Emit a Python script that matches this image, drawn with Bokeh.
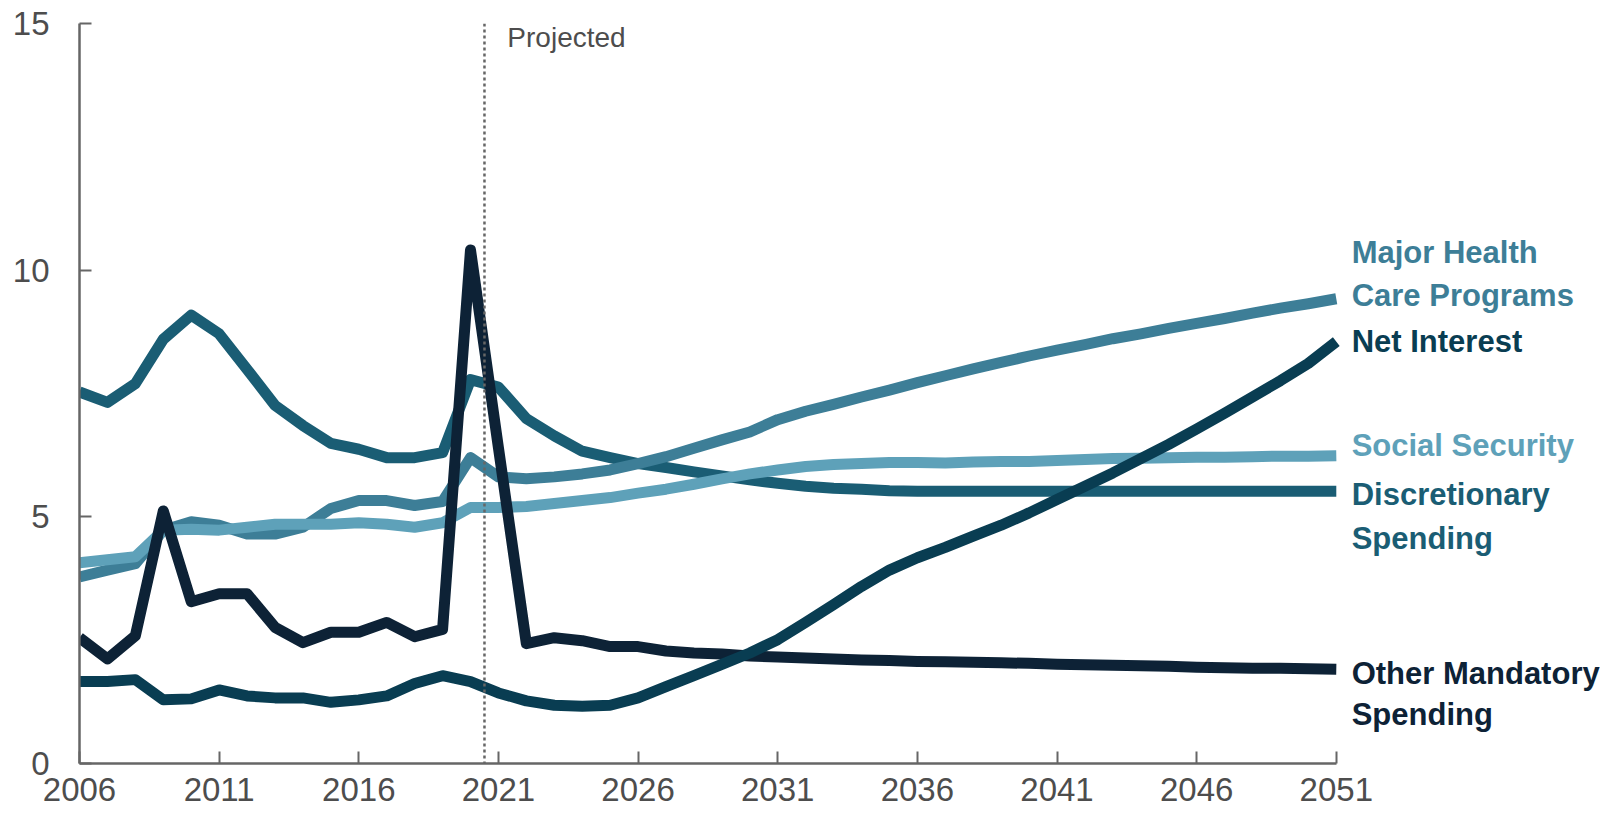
from bokeh.plotting import figure
from bokeh.models import FixedTicker, Label, Span
from bokeh.embed import file_html
from bokeh.resources import INLINE

years = list(range(2006, 2052))

discretionary = [7.53, 7.32, 7.70, 8.60, 9.09, 8.71, 7.99, 7.26, 6.85, 6.49,
                 6.37, 6.20, 6.20, 6.30, 7.78, 7.63, 6.99, 6.64, 6.33, 6.20,
                 6.08, 6.00, 5.91, 5.83, 5.75, 5.68, 5.62, 5.58, 5.56, 5.53,
                 5.52, 5.52, 5.52, 5.52, 5.52, 5.52, 5.52, 5.52, 5.52, 5.52,
                 5.52, 5.52, 5.52, 5.52, 5.52, 5.52]

health = [3.78, 3.92, 4.05, 4.73, 4.90, 4.83, 4.65, 4.65, 4.79, 5.17,
          5.33, 5.33, 5.23, 5.31, 6.20, 5.81, 5.77, 5.81, 5.87, 5.95,
          6.08, 6.22, 6.39, 6.56, 6.72, 6.97, 7.14, 7.28, 7.43, 7.57,
          7.72, 7.86, 8.00, 8.13, 8.26, 8.38, 8.49, 8.61, 8.71, 8.82,
          8.92, 9.02, 9.13, 9.23, 9.32, 9.42]

social_security = [4.07, 4.13, 4.19, 4.73, 4.75, 4.73, 4.79, 4.85, 4.85, 4.85,
                   4.88, 4.85, 4.79, 4.88, 5.19, 5.19, 5.21, 5.27, 5.33, 5.39,
                   5.48, 5.56, 5.66, 5.77, 5.87, 5.95, 6.02, 6.06, 6.08, 6.10,
                   6.10, 6.09, 6.11, 6.12, 6.12, 6.14, 6.16, 6.18, 6.19, 6.20,
                   6.21, 6.21, 6.22, 6.23, 6.23, 6.24]

net_interest = [1.66, 1.66, 1.70, 1.29, 1.31, 1.49, 1.37, 1.33, 1.33, 1.24,
                1.29, 1.37, 1.62, 1.78, 1.66, 1.43, 1.27, 1.18, 1.16, 1.18,
                1.33, 1.56, 1.78, 2.01, 2.24, 2.51, 2.86, 3.22, 3.59, 3.92,
                4.17, 4.38, 4.61, 4.83, 5.08, 5.35, 5.62, 5.89, 6.18, 6.47,
                6.78, 7.10, 7.43, 7.76, 8.11, 8.55]

other_mandatory = [2.55, 2.12, 2.59, 5.12, 3.28, 3.44, 3.44, 2.76, 2.45, 2.66,
                   2.66, 2.86, 2.57, 2.72, 10.41, 6.40, 2.43, 2.55, 2.49, 2.37,
                   2.37, 2.28, 2.24, 2.22, 2.18, 2.16, 2.14, 2.12, 2.10, 2.09,
                   2.07, 2.06, 2.05, 2.04, 2.03, 2.01, 2.00, 1.99, 1.98, 1.97,
                   1.95, 1.94, 1.93, 1.93, 1.92, 1.91]

x_ticks = [2006, 2011, 2016, 2021, 2026, 2031, 2036, 2041, 2046, 2051]
y_ticks = [0, 5, 10, 15]

C_DISC = "#1a5d74"
C_HEALTH = "#3d7e97"
C_SS = "#5ea1b9"
C_NI = "#093d52"
C_OM = "#0d2236"
GREY = "#666666"
TXT = "#4d4d4d"
FONT = "Liberation Sans"

p = figure(width=1600, height=812, output_backend="svg", toolbar_location=None,
           x_range=(2006, 2060.46), y_range=(0, 15),
           min_border_left=79, min_border_right=0, min_border_top=23,
           min_border_bottom=49)
p.outline_line_color = None
p.grid.visible = False
p.background_fill_color = "white"

for ax in (p.xaxis[0], p.yaxis[0]):
    ax.axis_line_color = GREY
    ax.axis_line_width = 2.5
    ax.major_tick_line_color = GREY
    ax.major_tick_line_width = 2
    ax.major_tick_in = 12
    ax.major_tick_out = 0
    ax.minor_tick_line_color = None
    ax.major_label_text_font = FONT
    ax.major_label_text_font_size = "33px"
    ax.major_label_text_color = TXT

p.xaxis[0].ticker = FixedTicker(ticks=x_ticks)
p.yaxis[0].ticker = FixedTicker(ticks=y_ticks)
p.xaxis[0].bounds = (2006, 2051)
p.yaxis[0].bounds = (0, 15)
p.xaxis[0].major_label_standoff = 14
p.yaxis[0].major_label_standoff = 30

kw = dict(line_width=11, line_join="round", line_cap="butt")
p.line(years, discretionary, line_color=C_DISC, **kw)
p.line(years, health, line_color=C_HEALTH, **kw)
p.line(years, social_security, line_color=C_SS, **kw)
p.line(years, other_mandatory, line_color=C_OM, **kw)
p.line(years, net_interest, line_color=C_NI, **kw)

p.add_layout(Span(location=2020.5, dimension="height", line_color=GREY,
                  line_width=2.5, line_dash="3 3"))
p.add_layout(Label(x=2021.32, y=14.72, text="Projected", text_font=FONT,
                   text_font_size="28px", text_color=TXT, text_baseline="middle"))

labels = [
    ("Major Health", 10.36, C_HEALTH),
    ("Care Programs", 9.49, C_HEALTH),
    ("Net Interest", 8.55, C_NI),
    ("Social Security", 6.45, C_SS),
    ("Discretionary", 5.45, C_DISC),
    ("Spending", 4.56, C_DISC),
    ("Other Mandatory", 1.83, C_OM),
    ("Spending", 0.99, C_OM),
]
for txt, yy, col in labels:
    p.add_layout(Label(x=2051.55, y=yy, text=txt, text_font=FONT,
                       text_font_size="31px", text_font_style="bold",
                       text_color=col, text_baseline="middle"))

open("out.html", "w").write(file_html(p, INLINE))
